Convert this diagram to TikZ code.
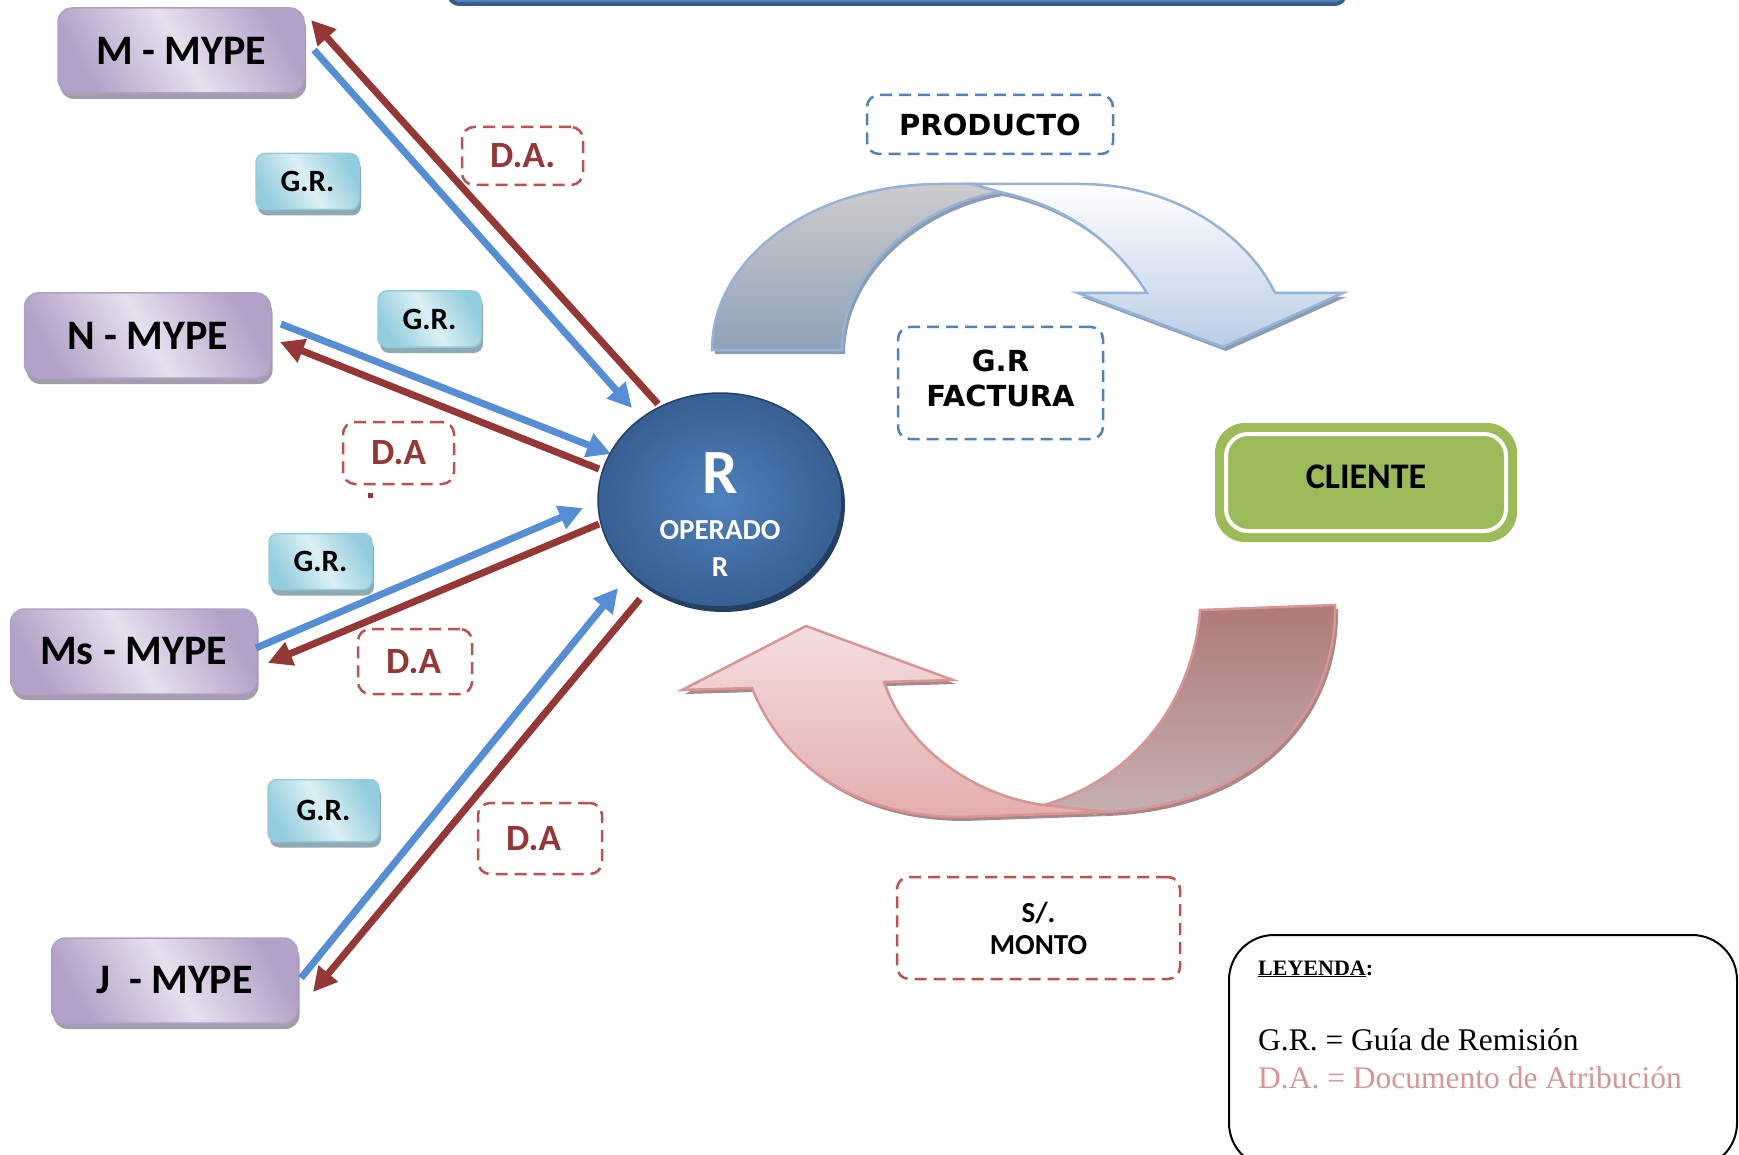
\documentclass[tikz,border=0pt]{standalone}
\usepackage{fontspec}
\setmainfont{Liberation Serif}
\newfontfamily\calfont{Carlito}
\newfontfamily\dvfont{DejaVu Sans}
\usetikzlibrary{arrows.meta,shapes.geometric,shadows}

\definecolor{aBlue}{HTML}{558ED5}
\definecolor{aRed}{HTML}{953735}
\definecolor{mypeD}{HTML}{B3A2C7}
\definecolor{mypeL}{HTML}{E6E0EE}
\definecolor{mypeB}{HTML}{B0A0C8}
\definecolor{mypeS}{HTML}{A59CB0}
\definecolor{grD}{HTML}{93CDDD}
\definecolor{grL}{HTML}{DCEFF4}
\definecolor{grB}{HTML}{93CDDD}
\definecolor{grS}{HTML}{8FAAB5}
\definecolor{dashRed}{HTML}{C0504D}
\definecolor{dashBlue}{HTML}{4F81BD}
\definecolor{cGreen}{HTML}{9BBB59}
\definecolor{circL}{HTML}{4F81BD}
\definecolor{circD}{HTML}{375F92}
\definecolor{circB}{HTML}{24406A}
\definecolor{circS}{HTML}{243F60}
\definecolor{legPink}{HTML}{D99594}
\definecolor{topGray}{HTML}{CCCCCC}
\definecolor{botGray}{HTML}{8FA1B8}
\definecolor{arcLine}{HTML}{95B3D7}
\definecolor{blueBot}{HTML}{B9CDE5}
\definecolor{arcShadow}{HTML}{8C9CB2}
\definecolor{roseTop}{HTML}{AE7A77}
\definecolor{roseBot}{HTML}{C4B0AF}
\definecolor{pinkTop}{HTML}{F3DEDD}
\definecolor{pinkBot}{HTML}{E3AEAD}
\definecolor{pinkLine}{HTML}{D99594}
\definecolor{pinkShadow}{HTML}{A88888}
\definecolor{barFill}{HTML}{5283BF}
\definecolor{barLine}{HTML}{385D8A}

\def\grayArc{(712,350) .. controls (712,258) and (812,184) .. (941,184) -- (972,184) -- (1000,192) .. controls (922,205) and (842,268) .. (842,350) -- cycle}
\def\blueArc{(972,184) -- (1080,184) .. controls (1180,184) and (1250,240) .. (1275,293) -- (1343,293) -- (1223,347) -- (1078,293) -- (1147,293) .. controls (1110,235) and (1060,205) .. (1000,192) -- cycle}
\def\roseArc{(1200,610) -- (1335,605) .. controls (1337,705) and (1265,805) .. (1105,812) -- (1044,805) .. controls (1130,780) and (1193,705) .. (1200,610) -- cycle}
\def\pinkArc{(1044,805) -- (1105,812) -- (962,817) .. controls (860,817) and (785,770) .. (752,688) -- (682,690) -- (806,626) -- (953,680) -- (884,682) .. controls (905,745) and (970,795) .. (1044,805) -- cycle}

\begin{document}
\begin{tikzpicture}[x=1pt,y=-1pt,
 mype/.style={rounded corners=14pt, minimum width=246pt, minimum height=85pt, inner sep=0pt,
   draw=mypeB, line width=1.5pt, left color=mypeD, right color=mypeD, middle color=mypeL,
   shading angle=120, drop shadow={shadow xshift=2pt, shadow yshift=-6pt, fill=mypeS, opacity=1},
   font=\calfont\bfseries\fontsize{42}{48}\selectfont},
 grbox/.style={rounded corners=9pt, minimum width=103pt, minimum height=56pt, inner sep=0pt,
   draw=grB, line width=1.5pt, left color=grD, right color=grD, middle color=grL,
   shading angle=120, drop shadow={shadow xshift=2pt, shadow yshift=-6pt, fill=grS, opacity=1},
   font=\calfont\bfseries\fontsize{31}{34}\selectfont},
 dabox/.style={draw=dashRed, line width=2.5pt, dash pattern=on 12pt off 7pt, rounded corners=12pt,
   align=left, inner xsep=28pt, inner ysep=0pt, text=aRed,
   font=\calfont\bfseries\fontsize{37}{42}\selectfont},
 bluedash/.style={draw=dashBlue, line width=2.5pt, dash pattern=on 12pt off 7pt, rounded corners=12pt,
   align=center, inner sep=0pt, font=\dvfont\bfseries\fontsize{29}{35}\selectfont},
 reddash/.style={draw=dashRed, line width=2.5pt, dash pattern=on 12pt off 7pt, rounded corners=12pt,
   align=center, inner sep=0pt, font=\calfont\bfseries\fontsize{29}{32}\selectfont},
 bl/.style={draw=aBlue, line width=7pt, -{Triangle[length=24pt,width=24pt]}},
 rd/.style={draw=aRed, line width=7pt, -{Triangle[length=24pt,width=24pt]}},
 optext/.style={text=white, font=\calfont\bfseries\fontsize{29}{32}\selectfont, inner sep=0pt}
]
\useasboundingbox (0,0) rectangle (1739,1155);

% top bar
\node[draw=barLine, line width=4pt, fill=barFill, rounded corners=10pt, minimum width=896pt,
  minimum height=60pt, inner sep=0pt] (BAR) at (897,-26) {};

% curved arrow PRODUCTO
\fill[arcShadow, shift={(3,4)}] \grayArc;
\fill[arcShadow, shift={(3,4)}] \blueArc;
\path[draw=arcLine, line width=2.5pt, top color=topGray, bottom color=botGray] \grayArc;
\path[draw=arcLine, line width=2.5pt, top color=white, bottom color=blueBot] \blueArc;

% curved arrow MONTO
\fill[pinkShadow, shift={(3,4)}] \roseArc;
\fill[pinkShadow, shift={(3,4)}] \pinkArc;
\path[draw=pinkLine, line width=2.5pt, top color=roseTop, bottom color=roseBot] \roseArc;
\path[draw=pinkLine, line width=2.5pt, top color=pinkTop, bottom color=pinkBot] \pinkArc;

% MYPE boxes
\node[mype] (M) at (181,50.5) {M - MYPE};
\node[mype] (N) at (147.5,335.5) {N - MYPE};
\node[mype] (Ms) at (133.5,651.5) {Ms - MYPE};
\node[mype] (J) at (174.5,980.5) {J\ \ - MYPE};

% G.R. boxes
\node[grbox] (gr1) at (307.5,181.5) {G.R.};
\node[grbox] (gr2) at (429.5,319) {G.R.};
\node[grbox] (gr3) at (320.5,561.5) {G.R.};
\node[grbox, minimum width=111pt, minimum height=62pt] (gr4) at (323.5,810.5) {G.R.};

% D.A. boxes
\node[dabox, text width=65pt, minimum height=58pt] (da1) at (522.5,156) {D.A.};
\node[dabox, text width=55pt, minimum height=62pt] (da2) at (398.5,453) {D.A};
\node[dabox, text width=58pt, minimum height=65pt] (da3) at (415,661.5) {D.A};
\node[dabox, text width=68pt, minimum height=71pt] (da4) at (540,838.5) {D.A};
\node[fill=aRed, minimum size=5pt, inner sep=0pt] (dot) at (370,495) {};

% connector end points
\coordinate (mB0) at (314,50);  \coordinate (mB1) at (632,408);
\coordinate (mR0) at (658,404); \coordinate (mR1) at (311,20);
\coordinate (nB0) at (281,324); \coordinate (nB1) at (611,454);
\coordinate (nR0) at (599,469); \coordinate (nR1) at (280,342);
\coordinate (sB0) at (256,648); \coordinate (sB1) at (583,508);
\coordinate (sR0) at (599,524); \coordinate (sR1) at (268,663);
\coordinate (jB0) at (301,978); \coordinate (jB1) at (618,588);
\coordinate (jR0) at (640,599); \coordinate (jR1) at (313,992);

\draw[bl] (mB0) -- (mB1);
\draw[rd] (mR0) -- (mR1);
\draw[bl] (nB0) -- (nB1);
\draw[rd] (nR0) -- (nR1);
\draw[bl] (sB0) -- (sB1);
\draw[rd] (sR0) -- (sR1);
\draw[bl] (jB0) -- (jB1);
\draw[rd] (jR0) -- (jR1);

% operator circle
\node[ellipse, minimum width=244pt, minimum height=214pt, inner sep=0pt,
  inner color=circL, outer color=circD, draw=circB, line width=1.5pt,
  drop shadow={shadow xshift=3pt, shadow yshift=-5pt, fill=circS, opacity=1}] (OP) at (720,500) {};
\node[optext, font=\calfont\bfseries\fontsize{63}{70}\selectfont] (opR) at (720,473) {R};
\node[optext] (opT) at (720,530) {OPERADO};
\node[optext] (opR2) at (720,567) {R};

% right side labels
\node[bluedash, minimum width=246pt, minimum height=59pt] (PR) at (990,124.5) {PRODUCTO};
\node[bluedash, minimum width=205pt, minimum height=112pt] (GF) at (1000.5,383) {};
\node[inner sep=0pt, align=center, font=\dvfont\bfseries\fontsize{29}{35}\selectfont] (GFt) at (1000.5,378) {G.R\\FACTURA};
\node[fill=cGreen, rounded corners=30pt, minimum width=302pt, minimum height=119pt, inner sep=0pt] (CL) at (1366,482.5) {};
\node[draw=white, line width=4pt, rounded corners=22pt, minimum width=280pt, minimum height=97pt,
  inner sep=0pt, font=\calfont\bfseries\fontsize{36}{40}\selectfont] (CLin) at (1366,482.5) {\raisebox{11pt}{CLIENTE}};
\node[reddash, minimum width=283pt, minimum height=102pt] (MO) at (1038.5,928) {S/.\\MONTO};

% legend
\node[draw, line width=2pt, rounded corners=45pt, minimum width=508pt, minimum height=233pt, inner sep=0pt] (LEG) at (1483,1051.5) {};
\node[anchor=base west, inner sep=0pt, font=\bfseries\fontsize{22}{26}\selectfont] (legT) at (1258,975) {\underline{LEYENDA}:};
\node[anchor=base west, inner sep=0pt, font=\fontsize{31.5}{36}\selectfont] (legG) at (1258,1050) {G.R. = Guía de Remisión};
\node[anchor=base west, inner sep=0pt, text=legPink, font=\fontsize{31.5}{36}\selectfont] (legD) at (1258,1088) {D.A. = Documento de Atribución};
\end{tikzpicture}
\end{document}
